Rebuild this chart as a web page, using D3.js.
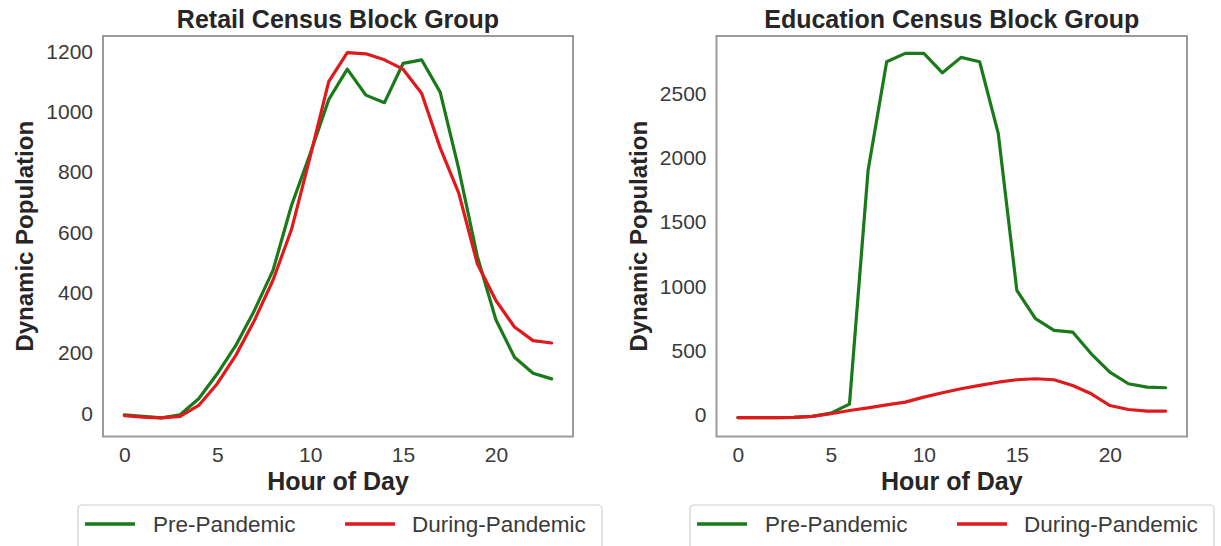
<!DOCTYPE html>
<html>
<head>
<meta charset="utf-8">
<script src="https://cdn.jsdelivr.net/npm/d3@7"></script>
<style>
  html, body { margin: 0; padding: 0; background: #fff; }
  svg { display: block; font-family: "Liberation Sans", Arial, sans-serif; }
</style>
</head>
<body>
<svg id="chart" width="1221" height="546"></svg>
<script>
// ---- data ----
const hours = d3.range(0, 24);
const retailPre = [-5, -10, -15, -5, 48, 131, 225, 341, 474, 690, 860, 1040, 1141, 1055, 1030, 1160, 1172, 1065, 810, 520, 310, 186, 133, 114];
const retailDuring = [-8, -13, -15, -10, 26, 98, 192, 308, 441, 610, 850, 1100, 1196, 1192, 1172, 1141, 1061, 880, 730, 496, 374, 286, 241, 233];
const eduPre = [-20, -20, -20, -18, -10, 15, 85, 1900, 2746, 2811, 2811, 2660, 2780, 2746, 2189, 969, 749, 658, 645, 476, 333, 243, 217, 212];
const eduDuring = [-20, -20, -20, -18, -10, 10, 35, 56, 79, 100, 139, 173, 204, 230, 255, 274, 282, 274, 230, 165, 74, 43, 30, 31];
const xTicks = [0, 5, 10, 15, 20];
const retailYTicks = [0, 200, 400, 600, 800, 1000, 1200];
const eduYTicks = [0, 500, 1000, 1500, 2000, 2500];
const seriesNames = ["Pre-Pandemic", "During-Pandemic"];
const seriesColors = ["#1a7a1a", "#e0191c"];

const panels = [
  { title: "Retail Census Block Group", pre: retailPre, during: retailDuring, yTicks: retailYTicks,
    yDomain: [-77, 1251], left: 103, right: 573, legendX: 78 },
  { title: "Education Census Block Group", pre: eduPre, during: eduDuring, yTicks: eduYTicks,
    yDomain: [-167, 2946], left: 716.5, right: 1187, legendX: 690 }
];

const svg = d3.select("#chart");
const plotTop = 36, plotBottom = 436.5;

panels.forEach(p => {
  const x = d3.scaleLinear().domain([-1.15, 24.15]).range([p.left, p.right]);
  const y = d3.scaleLinear().domain(p.yDomain).range([plotBottom, plotTop]);
  const g = svg.append("g");

  // frame
  g.append("rect")
    .attr("x", p.left).attr("y", plotTop)
    .attr("width", p.right - p.left).attr("height", plotBottom - plotTop)
    .attr("fill", "none").attr("stroke", "#9a9a9a").attr("stroke-width", 2);

  // axes
  const xAxis = g.append("g").attr("transform", `translate(0,${plotBottom})`)
    .call(d3.axisBottom(x).tickValues(xTicks).tickSize(0).tickPadding(11).tickFormat(d3.format("d")));
  const yAxis = g.append("g").attr("transform", `translate(${p.left},0)`)
    .call(d3.axisLeft(y).tickValues(p.yTicks).tickSize(0).tickPadding(10).tickFormat(d3.format("d")));
  [xAxis, yAxis].forEach(a => {
    a.select(".domain").remove();
    a.selectAll("text").attr("fill", "#3a3a3a").style("font-size", "21px")
      .style("font-family", '"Liberation Sans", Arial, sans-serif');
  });

  // lines
  const line = d3.line().x((d, i) => x(hours[i])).y(d => y(d));
  [p.pre, p.during].forEach((vals, k) => {
    g.append("path").datum(vals)
      .attr("fill", "none").attr("stroke", seriesColors[k]).attr("stroke-width", 3.2)
      .attr("stroke-linejoin", "round").attr("stroke-linecap", "round")
      .attr("d", line);
  });

  const cx = (p.left + p.right) / 2;
  // title
  g.append("text").attr("x", cx).attr("y", 28).attr("text-anchor", "middle")
    .attr("font-weight", "bold").attr("font-size", 25).attr("fill", "#262626").text(p.title);
  // x label
  g.append("text").attr("x", cx).attr("y", 490).attr("text-anchor", "middle")
    .attr("font-weight", "bold").attr("font-size", 25).attr("fill", "#262626").text("Hour of Day");
  // y label
  g.append("text")
    .attr("transform", `translate(${p.left - 70},${(plotTop + plotBottom) / 2}) rotate(-90)`)
    .attr("text-anchor", "middle")
    .attr("font-weight", "bold").attr("font-size", 24).attr("fill", "#262626").text("Dynamic Population");

  // legend
  const lg = g.append("g").attr("transform", `translate(${p.legendX},505)`);
  lg.append("rect").attr("x", 0).attr("y", 0).attr("width", 524).attr("height", 56)
    .attr("rx", 4).attr("fill", "#fff").attr("stroke", "#cfcfcf").attr("stroke-width", 1.2);
  const entryX = [[7, 57, 75], [267, 317, 334]];
  seriesNames.forEach((name, k) => {
    lg.append("line").attr("x1", entryX[k][0]).attr("x2", entryX[k][1])
      .attr("y1", 19).attr("y2", 19)
      .attr("stroke", seriesColors[k]).attr("stroke-width", 3.5);
    lg.append("text").attr("x", entryX[k][2]).attr("y", 27)
      .attr("font-size", 22.5).attr("fill", "#3a3a3a").text(name);
  });
});
</script>
</body>
</html>
